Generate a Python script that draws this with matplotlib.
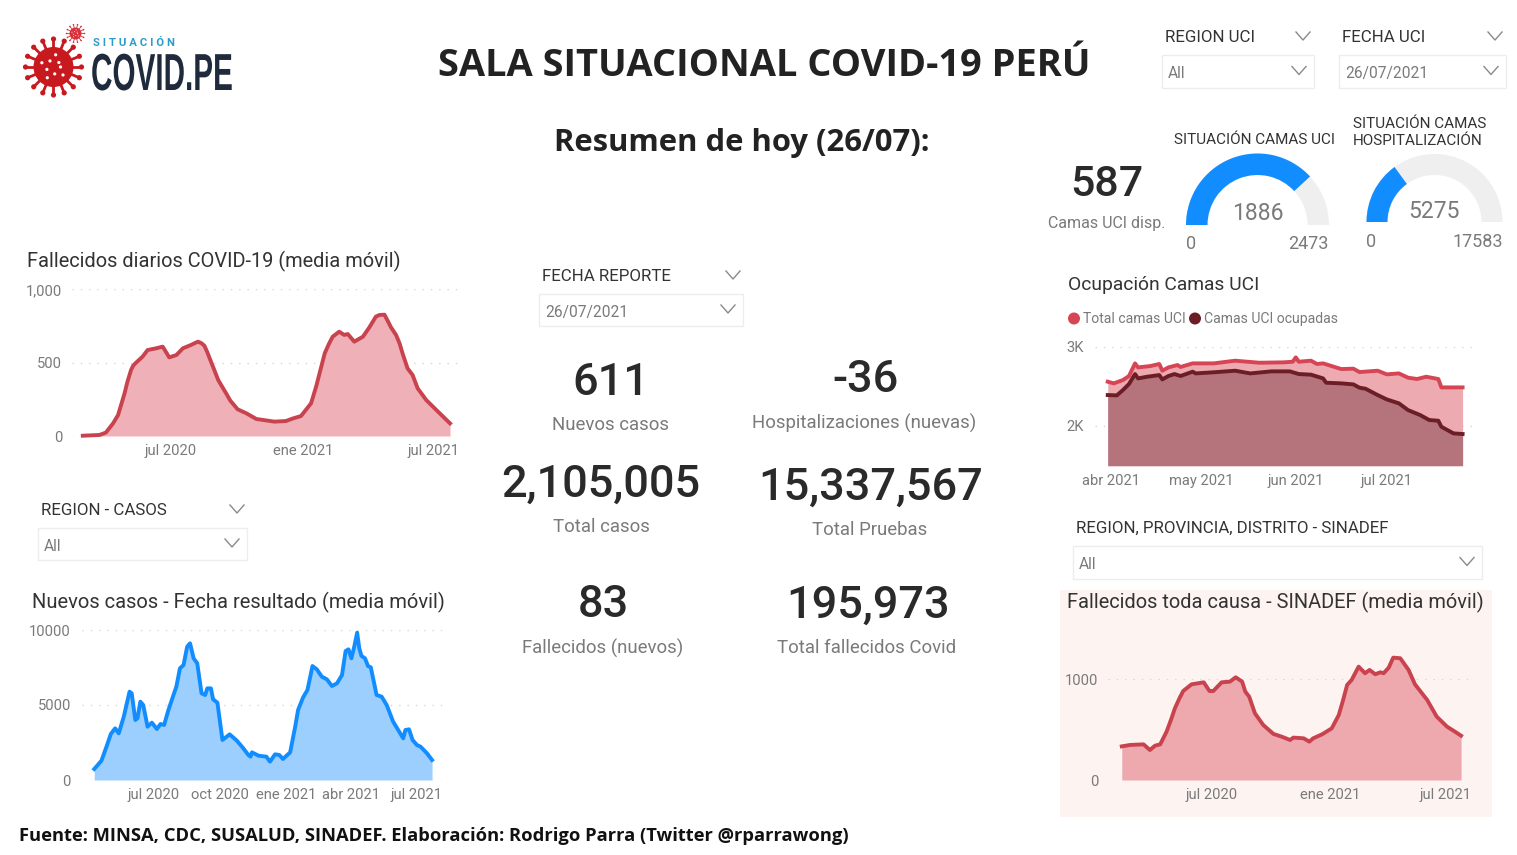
import numpy as np
import pandas as pd
import matplotlib
matplotlib.use("Agg")
import matplotlib.pyplot as plt
from matplotlib.patches import Wedge, Rectangle, Circle
from matplotlib.patheffects import AbstractPathEffect
from matplotlib.transforms import Affine2D

W, H = 1517, 855
plt.rcParams['font.family'] = ['Roboto', 'DejaVu Sans']

# Fallecidos diarios COVID-19 (dias desde 2020-03-01)
fall_inicio = '2020-03-01'
fall_dias = [0, 23, 32, 42, 49, 58, 62, 67, 70, 74, 83, 90, 102, 111, 120, 130, 139, 150, 155, 160, 165, 169, 173, 178,
             183, 188, 199, 205, 215, 227, 241, 266, 282, 292, 303, 317, 324, 330, 336, 342, 347, 356, 363, 368, 377,
             389, 398, 407, 412, 419, 428, 435, 440, 444, 451, 458, 465, 477, 491, 510]
fall_vals = [2, 7, 23, 86, 143, 291, 370, 450, 480, 500, 541, 586, 598, 609, 536, 552, 598, 620, 632, 643, 632, 614, 570, 507,
             445, 382, 291, 240, 182, 155, 116, 98, 102, 120, 136, 223, 336, 450, 564, 630, 677, 711, 689, 695, 643,
             677, 741, 814, 825, 827, 741, 689, 630, 564, 461, 416, 325, 245, 177, 86]

# Nuevos casos (dias desde 2020-04-09)
casos_inicio = '2020-04-09'
casos_dias = [0, 6, 10, 17, 23, 29, 34, 41, 49, 52, 57, 60, 64, 68, 74, 80, 87, 92, 97, 103, 110, 114, 119,
              124, 129, 133, 138, 143, 149, 154, 157, 162, 165, 171, 178, 188, 198, 207, 214, 217, 219, 228,
              239, 244, 251, 257, 262, 272, 279, 283, 290, 296, 303, 309, 316, 323, 330, 337, 344, 349, 353,
              357, 361, 365, 368, 371, 376, 380, 384, 392, 399, 406, 415, 429, 432, 437, 442, 448, 453, 462, 469]
casos_vals = [733, 1067, 1289, 2222, 3067, 3444, 3111, 4222, 5889, 5778, 4000, 4111, 5222, 5000, 3556, 3822,
              3400, 3733, 3667, 4667, 5667, 6222, 7444, 7667, 8889, 9111, 8111, 7778, 5778, 5667, 6111, 6111,
              5378, 5156, 2667, 3044, 2622, 2111, 1667, 1556, 1844, 1622, 1556, 1222, 1711, 1667, 1400, 1844,
              3556, 4667, 5511, 6000, 7600, 7378, 6889, 6711, 6267, 6444, 7000, 8600, 8711, 8111, 8889, 9822,
              8778, 8267, 8111, 7600, 7511, 5667, 5556, 5000, 3889, 2778, 3333, 3378, 2667, 2333, 2222, 1778, 1333]

# Ocupacion camas UCI (dias desde 2021-03-31)
uci_inicio = '2021-03-31'
total_dias = [0, 2, 5, 7, 9, 10, 14, 17, 18, 20, 23, 24, 28, 35, 42, 50, 58, 61, 62, 63, 67, 69, 71, 77, 81,
              83, 89, 92, 96, 99, 102, 105, 109, 110, 113, 117]
total_vals = [2557, 2536, 2578, 2629, 2789, 2738, 2755, 2781, 2696, 2738, 2768, 2743, 2789, 2789, 2823, 2797,
              2802, 2810, 2865, 2810, 2823, 2781, 2789, 2717, 2722, 2679, 2696, 2650, 2662, 2608, 2591, 2620,
              2591, 2485, 2485, 2485]
ocup_dias = [0, 3, 5, 7, 9, 10, 13, 17, 18, 20, 22, 24, 28, 29, 36, 42, 47, 54, 60, 63, 67, 71, 72, 77, 81,
             83, 85, 89, 92, 96, 99, 103, 106, 109, 110, 114, 117]
ocup_vals = [2388, 2384, 2451, 2527, 2654, 2599, 2620, 2641, 2586, 2629, 2654, 2629, 2684, 2662, 2679, 2696,
             2662, 2688, 2688, 2654, 2646, 2599, 2544, 2536, 2523, 2481, 2468, 2388, 2333, 2283, 2198, 2135,
             2072, 2063, 1987, 1903, 1895]

# Fallecidos toda causa SINADEF (dias desde 2020-02-11)
sina_inicio = '2020-02-11'
sina_dias = [0, 13, 34, 44, 52, 60, 70, 77, 83, 90, 96, 109, 128, 137, 143, 156, 169, 178, 188, 193, 199, 208, 221,
             237, 250, 263, 268, 284, 293, 299, 313, 328, 339, 346, 352, 359, 370, 380, 387, 396, 404, 409, 417,
             424, 435, 448, 458, 477, 492, 508, 518, 530]
sina_vals = [334, 348, 354, 298, 341, 354, 480, 600, 712, 810, 884, 950, 970, 884, 884, 970, 977, 1020, 977, 877, 828,
             662, 546, 457, 430, 397, 421, 414, 381, 414, 454, 513, 646, 800, 944, 993, 1126, 1060, 1093, 1050,
             1070, 1060, 1116, 1215, 1209, 1093, 950, 795, 629, 530, 490, 440]

# Medidores
uci_gauge = [1886, 2473]
hosp_gauge = [5275, 17583]

ROJO = '#C9434F'
GRIS = '#7A7A7A'
OSCURO = '#333333'


def fechas(inicio, dias):
    return pd.Timestamp(inicio) + pd.to_timedelta(dias, unit='D')


def eje(x0, x1, ytop, ybot, pad_y):
    # caja en pixeles de la imagen
    ax = fig.add_axes([x0 / W, 1 - ybot / H, (x1 - x0) / W, (ybot - ytop) / H], zorder=2)
    ax.patch.set_visible(False)
    for s in ax.spines.values():
        s.set_visible(False)
    ax.tick_params(length=0, labelsize=10.6, labelcolor=GRIS)
    ax.tick_params(axis='x', pad=6)
    ax.tick_params(axis='y', pad=pad_y)
    ax.yaxis.grid(True, color='#D6D6D6', linestyle=(0, (1, 5)), linewidth=1)
    ax.set_axisbelow(True)
    return ax


def area(ax, inicio, dias, vals, linea, relleno, base=0, lw=2.8):
    f = fechas(inicio, dias)
    ax.fill_between(f, vals, base, color=relleno, linewidth=0, zorder=2)
    ax.plot(f, vals, color=linea, lw=lw, zorder=3, solid_joinstyle='round', clip_on=False)


def rango_x(ax, inicio, antes, despues):
    t = pd.Timestamp(inicio)
    ax.set_xlim(t + pd.Timedelta(days=antes), t + pd.Timedelta(days=despues))


def txt(x, y, s, size, color=OSCURO, ha='left', **kw):
    # el centro de matplotlib queda unos 2 px por encima
    return bg.text(x, y + 2, s, fontsize=size, color=color, ha=ha, va='center', **kw)


def chevron(x, y, w=7, h=4, color='#8A8A8A'):
    bg.plot([x - w, x, x + w], [y - h, y + h, y - h], color=color, lw=1, zorder=3)


def desplegable(x0, y0, x1, y1, s, titulo, tx, ty, chev_t=None):
    bg.add_patch(Rectangle((x0, y0), x1 - x0, y1 - y0, fc='white', ec='#EDEDED', lw=1))
    txt(x0 + 6, (y0 + y1) / 2, s, 11.2, GRIS)
    chevron(x1 - 15, (y0 + y1) / 2 - 1)
    txt(tx, ty - 1, titulo, 12.2)
    if chev_t:
        chevron(chev_t, ty)


def medidor(cx, cy, R, grosor, valor, maximo):
    frac = valor / maximo
    bg.add_patch(Wedge((cx, cy), R, 180, 360, width=grosor, fc='#EFEFEF', ec='none'))
    bg.add_patch(Wedge((cx, cy), R, 180, 180 + 180 * frac, width=grosor, fc='#118DFF', ec='none'))


class Escala(AbstractPathEffect):
    # estrecha el texto del logo
    def __init__(self, sx):
        super().__init__()
        self.sx = sx

    def draw_path(self, renderer, gc, tpath, affine, rgbFace=None):
        renderer.draw_path(gc, tpath, Affine2D().scale(self.sx, 1) + affine, rgbFace)


def virus(cx, cy, r, largo, n, color='#C8191E'):
    for a in np.linspace(0, 2 * np.pi, n, endpoint=False):
        c, s = np.cos(a), np.sin(a)
        bg.plot([cx + r * c, cx + (r + largo) * c], [cy + r * s, cy + (r + largo) * s], color=color, lw=r / 10, zorder=3)
        bg.add_patch(Circle((cx + (r + largo) * c, cy + (r + largo) * s), r * 0.13, fc=color, ec='none', zorder=3))
    bg.add_patch(Circle((cx, cy), r, fc=color, ec='none', zorder=3))
    for k, a in enumerate(np.linspace(0, 2 * np.pi, 9, endpoint=False)):
        rr = r * (0.62 if k % 2 else 0.35)
        bg.add_patch(Circle((cx + rr * np.cos(a), cy + rr * np.sin(a)), r * 0.08, fc='white', ec='none', zorder=4))


fig = plt.figure(figsize=(W / 100, H / 100), dpi=100, facecolor='white')
bg = fig.add_axes([0, 0, 1, 1], zorder=1)
bg.set_xlim(0, W)
bg.set_ylim(H, 0)
bg.axis('off')

# logo
virus(53.5, 67, 20, 8, 16)
virus(75.5, 33.5, 6, 3, 14, color='#D9303A')
txt(93.5, 41, 'S I T U A C I Ó N', 8.2, '#2E9CCB', weight='bold')
t = bg.text(91, 90, 'COVID.PE', fontsize=37.5, color='#1F2A3C', weight='bold', family='Liberation Sans', ha='left', va='baseline')
t.set_path_effects([Escala(0.57)])

# encabezados
txt(764, 64, 'SALA SITUACIONAL COVID-19 PERÚ', 27.4, '#222222', ha='center', weight='bold', family='Open Sans')
txt(742, 141, 'Resumen de hoy (26/07):', 22.3, '#222222', ha='center', weight='bold', family='Open Sans')
txt(19, 834, 'Fuente: MINSA, CDC, SUSALUD, SINADEF. Elaboración: Rodrigo Parra (Twitter @rparrawong)', 13.2,
    '#111111', weight='bold', family='Open Sans')

# desplegables
desplegable(1162, 55, 1314, 88, 'All', 'REGION UCI', 1165, 36, 1303)
desplegable(1339, 55, 1506, 88, '26/07/2021', 'FECHA UCI', 1342, 36, 1495)
desplegable(539, 294, 743, 326, '26/07/2021', 'FECHA REPORTE', 542, 275, 733)
desplegable(38, 528, 247, 560, 'All', 'REGION - CASOS', 41, 509, 237)
desplegable(1073, 546, 1482, 579, 'All', 'REGION, PROVINCIA, DISTRITO - SINADEF', 1076, 527)

# indicadores
kpis = [(611, 381, '611', 611, 423, 'Nuevos casos'),
        (866, 378, '-36', 864, 421, 'Hospitalizaciones (nuevas)'),
        (601, 483, '2,105,005', 601, 525, 'Total casos'),
        (871, 486, '15,337,567', 870, 528, 'Total Pruebas'),
        (603, 603, '83', 603, 646, 'Fallecidos (nuevos)'),
        (868, 604, '195,973', 867, 646, 'Total fallecidos Covid')]
for x, y, s, x2, y2, lab in kpis:
    txt(x, y, s, 32.5, '#2A2A2A', ha='center', weight='medium')
    txt(x2, y2, lab, 13.4, GRIS, ha='center')
txt(1107, 183, '587', 31, '#2A2A2A', ha='center', weight='medium')
txt(1107, 221, 'Camas UCI disp.', 11.5, GRIS, ha='center')

# medidores
txt(1255, 138, 'SITUACIÓN CAMAS UCI', 11, ha='center')
txt(1353, 122, 'SITUACIÓN CAMAS', 11)
txt(1353, 139, 'HOSPITALIZACIÓN', 11)
medidor(1257.5, 225, 71.5, 21.5, *uci_gauge)
medidor(1434.5, 222, 68, 21, *hosp_gauge)
txt(1258, 211, str(uci_gauge[0]), 16.5, GRIS, ha='center')
txt(1434, 209, str(hosp_gauge[0]), 16.5, GRIS, ha='center')
txt(1186, 242, '0', 13, GRIS)
txt(1329, 242, str(uci_gauge[1]), 13, GRIS, ha='right')
txt(1366, 240, '0', 13, GRIS)
txt(1503, 240, str(hosp_gauge[1]), 13, GRIS, ha='right')

# panel sinadef
bg.add_patch(Rectangle((1060, 590), 432, 227, fc='#FDF4F1', ec='none', zorder=0))

# graficos
txt(27, 259, 'Fallecidos diarios COVID-19 (media móvil)', 14.4)
ax1 = eje(72, 463, 289.3, 436, 7)
area(ax1, fall_inicio, fall_dias, fall_vals, ROJO, '#EFB0B8')
rango_x(ax1, fall_inicio, -15, 528)
ax1.set_ylim(0, 1000)
ax1.set_yticks([0, 500, 1000], ['0', '500', '1,000'])
ax1.set_xticks(pd.to_datetime(['2020-07-01', '2021-01-01', '2021-07-01']), ['jul 2020', 'ene 2021', 'jul 2021'])

txt(32, 600, 'Nuevos casos - Fecha resultado (media móvil)', 14.5)
ax2 = eje(82, 445, 630, 780, 8)
area(ax2, casos_inicio, casos_dias, casos_vals, '#118DFF', '#9CCFFD')
rango_x(ax2, casos_inicio, -17, 487)
ax2.set_ylim(0, 10000)
ax2.set_yticks([0, 5000, 10000], ['0', '5000', '10000'])
ax2.set_xticks(pd.to_datetime(['2020-07-01', '2020-10-01', '2021-01-01', '2021-04-01', '2021-07-01']),
               ['jul 2020', 'oct 2020', 'ene 2021', 'abr 2021', 'jul 2021'])

txt(1068, 283, 'Ocupación Camas UCI', 13.9)
bg.add_patch(Circle((1074, 318.5), 6, fc='#D64554', ec='none'))
txt(1083, 317, 'Total camas UCI', 10.1, GRIS)
bg.add_patch(Circle((1195, 318.5), 6, fc='#6B1E25', ec='none'))
txt(1204, 317, 'Camas UCI ocupadas', 10.1, GRIS)
ax3 = eje(1095, 1472, 346.7, 465.7, 8)
area(ax3, uci_inicio, total_dias, total_vals, '#D64554', '#EDAAB1', base=1494)
area(ax3, uci_inicio, ocup_dias, ocup_vals, '#6B1E25', '#B5747B', base=1494)
rango_x(ax3, uci_inicio, -4.2, 120.1)
ax3.set_ylim(1494, 3000)
ax3.set_yticks([2000, 3000], ['2K', '3K'])
ax3.set_xticks(pd.to_datetime(['2021-04-01', '2021-05-01', '2021-06-01', '2021-07-01']),
               ['abr 2021', 'may 2021', 'jun 2021', 'jul 2021'])

txt(1067, 600, 'Fallecidos toda causa - SINADEF (media móvil)', 14.4)
ax4 = eje(1108, 1471, 679.3, 780, 7)
area(ax4, sina_inicio, sina_dias, sina_vals, ROJO, '#EDA9AE')
rango_x(ax4, sina_inicio, -21.5, 545.5)
ax4.set_ylim(0, 1000)
ax4.set_yticks([0, 1000], ['0', '1000'])
ax4.set_xticks(pd.to_datetime(['2020-07-01', '2021-01-01', '2021-07-01']), ['jul 2020', 'ene 2021', 'jul 2021'])
for c in ax4.collections:
    c.set_clip_on(False)

fig.savefig('out.png', dpi=100)
